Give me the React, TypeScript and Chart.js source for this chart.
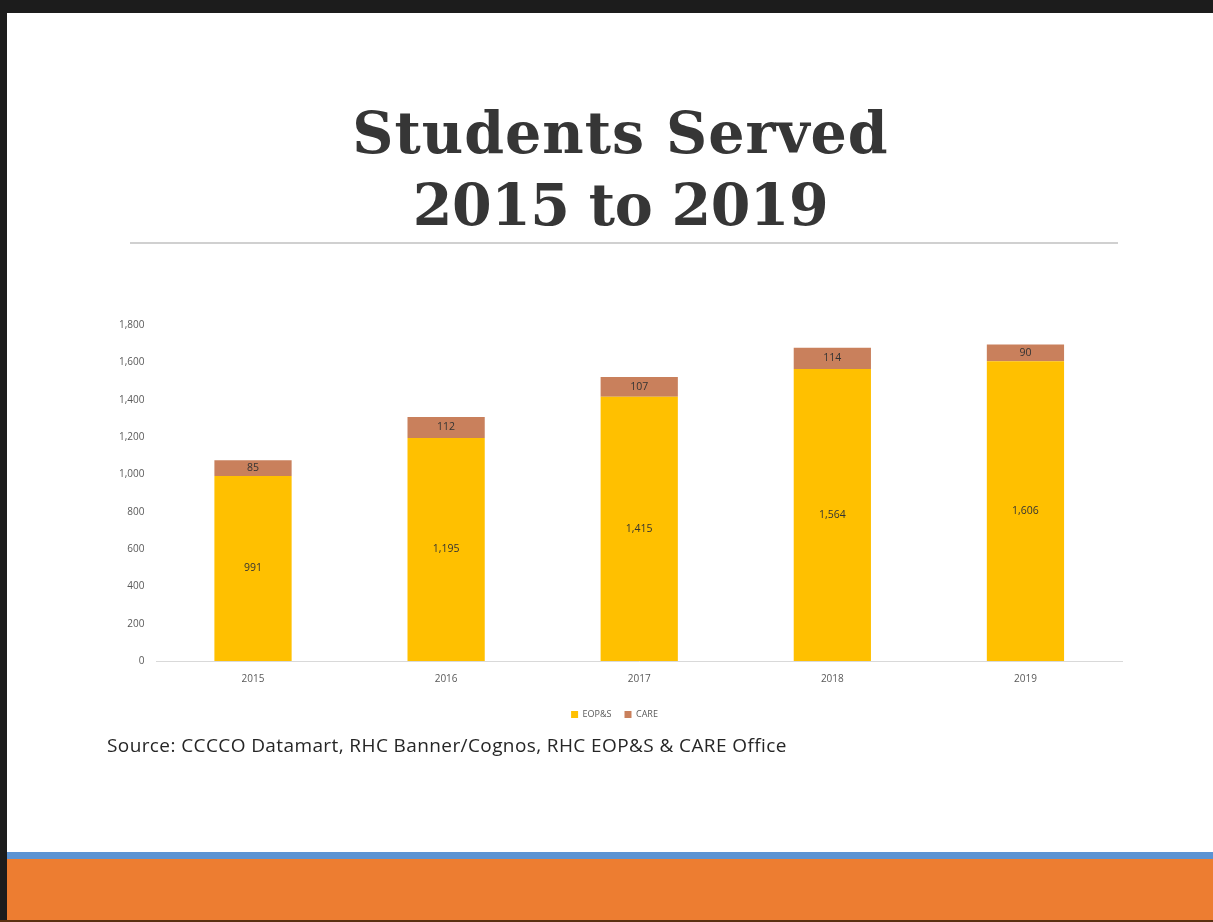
import React, { useEffect, useRef } from "react";
import { Chart, registerables } from "chart.js";

Chart.register(...registerables);

const years = ["2015", "2016", "2017", "2018", "2019"];
const eops = [991, 1195, 1415, 1564, 1606];
const care = [85, 112, 107, 114, 90];
const yMax = 1800;
const yStep = 200;

const labelPlugin = {
  id: "segLabels",
  afterDatasetsDraw(chart: any) {
    const ctx = chart.ctx;
    ctx.save();
    ctx.font = "10.5px 'Open Sans', sans-serif";
    ctx.fillStyle = "#333333";
    ctx.textAlign = "center";
    ctx.textBaseline = "middle";
    chart.data.datasets.forEach((ds: any, di: number) => {
      const meta = chart.getDatasetMeta(di);
      meta.data.forEach((el: any, i: number) => {
        const v = ds.data[i];
        const y = (el.y + el.base) / 2;
        ctx.fillText(v.toLocaleString("en-US"), el.x, y);
      });
    });
    ctx.restore();
  },
};

function BarChart() {
  const ref = useRef<HTMLCanvasElement>(null);
  useEffect(() => {
    if (!ref.current) return;
    const chart = new Chart(ref.current, {
      type: "bar",
      data: {
        labels: years,
        datasets: [
          { label: "EOP&S", data: eops, backgroundColor: "#FFC000", categoryPercentage: 1, barPercentage: 0.4 },
          { label: "CARE", data: care, backgroundColor: "#C9805C", categoryPercentage: 1, barPercentage: 0.4 },
        ],
      },
      options: {
        responsive: false,
        animation: false,
        layout: { padding: { top: 8, right: 18, bottom: 4, left: 17 } },
        plugins: {
          legend: {
            position: "bottom",
            labels: {
              boxWidth: 7,
              boxHeight: 7,
              padding: 13,
              color: "#595959",
              font: { size: 9, family: "'Open Sans', sans-serif" },
            },
          },
          tooltip: { enabled: false },
        },
        scales: {
          x: {
            stacked: true,
            grid: { display: false, drawTicks: false },
            border: { color: "#d9d9d9" },
            ticks: { color: "#595959", padding: 12, font: { size: 10, family: "'Open Sans', sans-serif" } },
          },
          y: {
            stacked: true,
            min: 0,
            max: yMax,
            grid: { display: false, drawTicks: false },
            border: { display: false },
            ticks: {
              stepSize: yStep,
              color: "#595959",
              padding: 12,
              font: { size: 10, family: "'Open Sans', sans-serif" },
              callback: (v: any) => Number(v).toLocaleString("en-US"),
            },
          },
        },
      },
      plugins: [labelPlugin],
    });
    return () => chart.destroy();
  }, []);
  return <canvas ref={ref} width={1050} height={426} style={{ position: "absolute", left: 90, top: 307 }} />;
}

export default function App() {
  return (
    <div style={{ position: "fixed", left: 0, top: 0, width: 1213, height: 922, background: "#fff", overflow: "hidden" }}>
      <div style={{ position: "absolute", left: 0, top: 0, width: 1213, height: 13, background: "#1c1c1c" }} />
      <div style={{ position: "absolute", left: 0, top: 0, width: 7, height: 922, background: "#1c1c1c" }} />
      <div
        style={{
          position: "absolute",
          left: 0,
          width: 1213,
          top: 97,
          textAlign: "center",
          fontFamily: "'DejaVu Serif', serif",
          fontWeight: 900,
          fontSize: 57,
          letterSpacing: 1,
          lineHeight: "72px",
          color: "#363636",
          paddingLeft: 14,
        }}
      >
        Students Served
        <br />
        <span style={{ letterSpacing: -0.5 }}>2015 to 2019</span>
      </div>
      <div style={{ position: "absolute", left: 130, top: 242, width: 988, height: 2, background: "#d0d0d0" }} />
      <BarChart />
      <div
        style={{
          position: "absolute",
          left: 107,
          top: 732,
          fontFamily: "'Open Sans', sans-serif",
          fontSize: 19,
          letterSpacing: 0.4,
          color: "#262626",
          whiteSpace: "nowrap",
        }}
      >
        Source: CCCCO Datamart, RHC Banner/Cognos, RHC EOP&amp;S &amp; CARE Office
      </div>
      <div style={{ position: "absolute", left: 7, top: 852, width: 1206, height: 7, background: "#5b93d3" }} />
      <div style={{ position: "absolute", left: 7, top: 859, width: 1206, height: 61, background: "#ED7D31" }} />
      <div style={{ position: "absolute", left: 0, top: 920, width: 1213, height: 2, background: "#5a3010" }} />
    </div>
  );
}
